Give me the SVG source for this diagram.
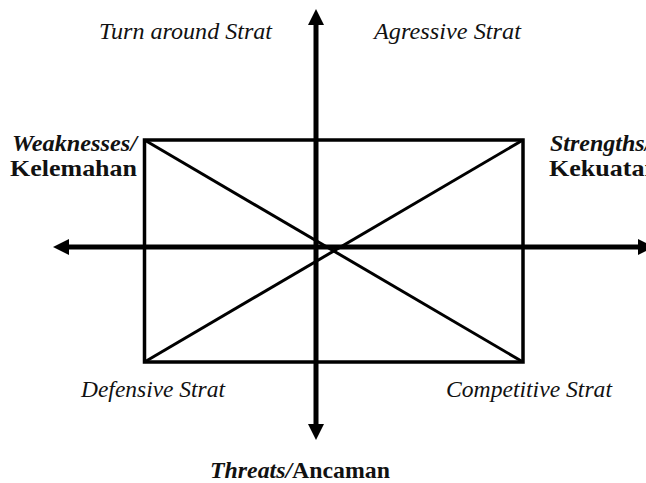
<svg xmlns="http://www.w3.org/2000/svg" width="646" height="483" viewBox="0 0 646 483">
  <style>
    .it { font-family: "Liberation Serif", serif; font-style: italic; font-size: 24px; fill: #111; }
    .bi { font-family: "Liberation Serif", serif; font-style: italic; font-weight: bold; font-size: 24px; fill: #111; }
    .b { font-family: "Liberation Serif", serif; font-weight: bold; font-size: 24px; fill: #111; }
    .axis { stroke: #000; stroke-width: 5; fill: none; }
    .box { stroke: #000; stroke-width: 3.5; fill: none; }
    .diag { stroke: #000; stroke-width: 3; fill: none; }
  </style>
  <defs>
    <marker id="ah" markerUnits="userSpaceOnUse" markerWidth="16" markerHeight="16" refX="0" refY="8" orient="auto-start-reverse" viewBox="0 0 16 16">
      <path d="M0,0 L16,8 L0,16 Z" fill="#000"/>
    </marker>
  </defs>
  <rect width="646" height="483" fill="#fff"/>
  <g id="connectors">
    <line class="diag" x1="144.5" y1="140" x2="523" y2="362"/>
    <line class="diag" x1="144.5" y1="362" x2="523" y2="140"/>
    <line class="axis" x1="316" y1="25" x2="316" y2="424" marker-start="url(#ah)" marker-end="url(#ah)"/>
    <line class="axis" x1="69" y1="247" x2="638" y2="247" marker-start="url(#ah)" marker-end="url(#ah)"/>
  </g>
  <g id="box">
    <rect class="box" x="144.5" y="140" width="378.5" height="222"/>
  </g>
  <g id="turnaround"><text class="it" x="99" y="39" textLength="173" lengthAdjust="spacingAndGlyphs">Turn around Strat</text></g>
  <g id="aggressive"><text class="it" x="374" y="39" textLength="147" lengthAdjust="spacingAndGlyphs">Agressive Strat</text></g>
  <g id="weaknesses">
    <text class="bi" x="12" y="151" textLength="125" lengthAdjust="spacingAndGlyphs">Weaknesses/</text>
    <text class="b" x="10" y="176" textLength="127" lengthAdjust="spacingAndGlyphs">Kelemahan</text>
  </g>
  <g id="strengths">
    <text class="bi" x="550" y="151">Strengths/</text>
    <text class="b" x="549" y="176" textLength="110" lengthAdjust="spacingAndGlyphs">Kekuatan</text>
  </g>
  <g id="defensive"><text class="it" x="81" y="397" textLength="144" lengthAdjust="spacingAndGlyphs">Defensive Strat</text></g>
  <g id="competitive"><text class="it" x="446" y="397" textLength="166" lengthAdjust="spacingAndGlyphs">Competitive Strat</text></g>
  <g id="threats"><text x="210" y="478" textLength="180" lengthAdjust="spacingAndGlyphs"><tspan class="bi">Threats/</tspan><tspan class="b">Ancaman</tspan></text></g>
</svg>
